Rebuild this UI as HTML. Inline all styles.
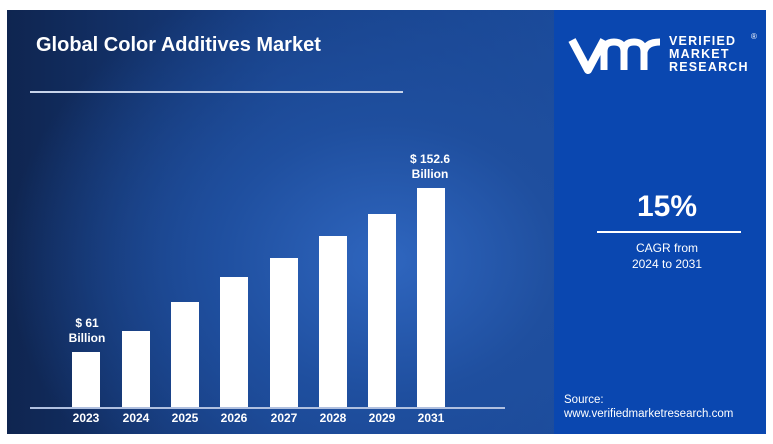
<!DOCTYPE html>
<html><head><meta charset="utf-8"><style>
body{margin:0;width:773px;height:444px;background:#fff;position:relative;overflow:hidden;font-family:"Liberation Sans",sans-serif;color:#fff}
.l{position:absolute;left:7px;top:10px;width:547px;height:424px;background:radial-gradient(ellipse 380px 300px at 380px 250px,#2f66bf 0%,#1f4f9f 45%,rgba(20,50,110,0) 100%),linear-gradient(90deg,#0f2550 0%,#173f85 50%,#1a4a9a 100%)}
.r{position:absolute;left:554px;top:10px;width:212px;height:424px;background:#0a47b0}
.a{position:absolute}
.bar{position:absolute;background:#fff;width:28px}
.yr{position:absolute;top:411px;font-size:12px;font-weight:bold;width:50px;text-align:center}
</style></head><body>
<div class="l"></div><div class="r"></div>
<div class="a" style="left:36px;top:34px;font-size:20px;font-weight:bold">Global Color Additives Market</div>
<div class="a" style="left:30px;top:91px;width:373px;height:2px;background:#c8d4ea"></div>
<div class="a" style="left:30px;top:407px;width:475px;height:2px;background:#b0c0e0"></div>
<div class="bar" style="left:72px;top:352px;height:55px"></div>
<div class="bar" style="left:122px;top:331px;height:76px"></div>
<div class="bar" style="left:171px;top:302px;height:105px"></div>
<div class="bar" style="left:220px;top:277px;height:130px"></div>
<div class="bar" style="left:270px;top:258px;height:149px"></div>
<div class="bar" style="left:319px;top:236px;height:171px"></div>
<div class="bar" style="left:368px;top:214px;height:193px"></div>
<div class="bar" style="left:417px;top:188px;height:219px"></div>
<div class="yr" style="left:61px">2023</div><div class="yr" style="left:111px">2024</div><div class="yr" style="left:160px">2025</div><div class="yr" style="left:209px">2026</div><div class="yr" style="left:259px">2027</div><div class="yr" style="left:308px">2028</div><div class="yr" style="left:357px">2029</div><div class="yr" style="left:406px">2031</div>
<div class="a" style="left:62px;top:316px;font-size:12px;font-weight:bold;text-align:center;width:50px;line-height:15px">$ 61<br>Billion</div>
<div class="a" style="left:400px;top:152px;font-size:12px;font-weight:bold;text-align:center;width:60px;line-height:15px">$ 152.6<br>Billion</div>
<svg class="a" style="left:568px;top:34px" width="100" height="42" viewBox="0 0 100 42"><path d="M4 6 L20 36 L36 6" stroke="#fff" stroke-width="8" fill="none" stroke-linejoin="round"/><path d="M36 36 V18 Q36 8 46 8 Q56 8 56 18 V36 M56 18 Q56 8 66 8 Q76 8 76 18 V36 M76 18 Q78 8 92 8" stroke="#fff" stroke-width="7" fill="none"/></svg>
<div class="a" style="left:669px;top:35px;font-size:12.5px;font-weight:bold;line-height:13px;letter-spacing:1.2px">VERIFIED<br>MARKET<br>RESEARCH</div>
<div class="a" style="left:751px;top:32px;font-size:8px">®</div>
<div class="a" style="left:554px;top:190px;width:226px;text-align:center;font-size:30px;font-weight:bold">15%</div>
<div class="a" style="left:597px;top:231px;width:144px;height:2px;background:#fff"></div>
<div class="a" style="left:554px;top:240px;width:226px;text-align:center;font-size:12px;line-height:16px">CAGR from<br>2024 to 2031</div>
<div class="a" style="left:564px;top:393px;font-size:11.5px;line-height:14px">Source:<br>www.verifiedmarketresearch.com</div>
</body></html>
